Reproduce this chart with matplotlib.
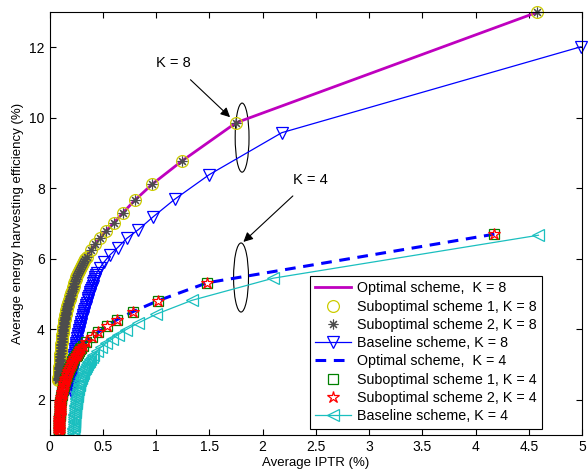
import matplotlib
matplotlib.use("Agg")
import matplotlib.pyplot as plt
from matplotlib.patches import Ellipse
from matplotlib.ticker import FormatStrFormatter, MultipleLocator

plt.rcParams["font.family"] = ["Liberation Sans", "DejaVu Sans"]

# K = 8, optimal scheme (suboptimal schemes 1 and 2 sit on the same points)
opt8_x = [4.58, 1.75, 1.24, 0.965, 0.80, 0.69, 0.606, 0.53, 0.474, 0.427, 0.39, 0.349,
          0.336, 0.324, 0.313, 0.302, 0.292, 0.283, 0.275, 0.267, 0.259, 0.252,
          0.245, 0.239, 0.233, 0.227, 0.221, 0.216, 0.211, 0.206, 0.202, 0.197,
          0.193, 0.189, 0.185, 0.181, 0.178, 0.175, 0.171, 0.168, 0.165, 0.162,
          0.159, 0.156, 0.154, 0.151, 0.149, 0.146, 0.144, 0.142, 0.140, 0.138,
          0.136, 0.134, 0.132, 0.130, 0.128, 0.126, 0.124, 0.123, 0.121, 0.119,
          0.118, 0.116, 0.115, 0.114, 0.112, 0.111, 0.109, 0.108, 0.107, 0.106,
          0.104, 0.103, 0.102, 0.101, 0.100, 0.099, 0.098, 0.097, 0.096, 0.095,
          0.094, 0.093, 0.092, 0.091, 0.090, 0.089, 0.088, 0.087, 0.0865, 0.086,
          0.085, 0.084, 0.0835, 0.083]
opt8_y = [13.0, 9.86, 8.77, 8.12, 7.66, 7.31, 7.03, 6.79, 6.60, 6.42, 6.25, 6.06,
          6.00, 5.94, 5.88, 5.83, 5.77, 5.71, 5.65, 5.59, 5.53, 5.48,
          5.42, 5.36, 5.30, 5.24, 5.19, 5.13, 5.08, 5.02, 4.98, 4.94,
          4.90, 4.87, 4.83, 4.80, 4.76, 4.72, 4.69, 4.65, 4.61, 4.58,
          4.54, 4.50, 4.47, 4.43, 4.40, 4.36, 4.32, 4.28, 4.25, 4.21,
          4.18, 4.14, 4.10, 4.06, 4.02, 3.98, 3.94, 3.89, 3.85, 3.80,
          3.76, 3.72, 3.68, 3.63, 3.59, 3.55, 3.51, 3.46, 3.42, 3.37,
          3.33, 3.29, 3.25, 3.20, 3.16, 3.12, 3.09, 3.05, 3.02, 2.99,
          2.96, 2.93, 2.90, 2.86, 2.83, 2.80, 2.77, 2.74, 2.71, 2.67,
          2.64, 2.61, 2.58, 2.55]

# K = 8, baseline scheme
base8_x = [4.99, 2.18, 1.50, 1.175, 0.972, 0.835, 0.725, 0.64, 0.568, 0.515, 0.474, 0.443,
           0.4365, 0.430, 0.4235, 0.417, 0.4105, 0.404, 0.3975, 0.391, 0.3845, 0.378,
           0.3715, 0.365, 0.359, 0.353, 0.3465, 0.340, 0.334, 0.328, 0.322, 0.316,
           0.3105, 0.305, 0.2995, 0.294, 0.289, 0.284, 0.279, 0.274, 0.2695, 0.265,
           0.261, 0.257, 0.253, 0.249, 0.2455, 0.242, 0.239, 0.236, 0.233, 0.230,
           0.2275, 0.225, 0.223, 0.221, 0.219, 0.217, 0.2155, 0.214, 0.2125, 0.211,
           0.210, 0.209, 0.208, 0.207, 0.206, 0.205]
base8_y = [12.02, 9.58, 8.39, 7.69, 7.19, 6.83, 6.58, 6.32, 6.11, 5.92, 5.75, 5.60,
           5.54, 5.48, 5.42, 5.36, 5.30, 5.24, 5.18, 5.12, 5.06, 5.00,
           4.94, 4.88, 4.82, 4.76, 4.70, 4.64, 4.58, 4.52, 4.46, 4.40,
           4.34, 4.28, 4.22, 4.16, 4.10, 4.04, 3.98, 3.92, 3.86, 3.80,
           3.74, 3.68, 3.62, 3.56, 3.50, 3.44, 3.38, 3.32, 3.26, 3.20,
           3.14, 3.08, 3.02, 2.96, 2.90, 2.84, 2.78, 2.72, 2.66, 2.60,
           2.54, 2.48, 2.42, 2.36, 2.30, 2.24]

# K = 4, optimal scheme (suboptimal schemes 1 and 2 sit on the same points)
opt4_x = [4.177, 1.48, 1.018, 0.783, 0.631, 0.537, 0.458, 0.396, 0.346, 0.31,
          0.2985, 0.287, 0.2755, 0.264, 0.254, 0.244, 0.234, 0.224, 0.2155, 0.207,
          0.199, 0.191, 0.1835, 0.176, 0.1705, 0.165, 0.160, 0.155, 0.150, 0.145,
          0.1405, 0.136, 0.132, 0.128, 0.1245, 0.121, 0.1175, 0.114, 0.1105, 0.107,
          0.104, 0.101, 0.100, 0.099, 0.098, 0.097, 0.096, 0.095, 0.0945, 0.094,
          0.093, 0.092, 0.0915, 0.091, 0.0905, 0.090, 0.0895, 0.089, 0.0885, 0.088]
opt4_y = [6.70, 5.32, 4.81, 4.50, 4.27, 4.08, 3.92, 3.78, 3.65, 3.53,
          3.48, 3.43, 3.38, 3.33, 3.28, 3.23, 3.18, 3.13, 3.08, 3.03,
          2.98, 2.93, 2.88, 2.83, 2.78, 2.73, 2.68, 2.63, 2.58, 2.53,
          2.48, 2.43, 2.38, 2.33, 2.28, 2.23, 2.18, 2.13, 2.08, 2.03,
          1.98, 1.93, 1.88, 1.83, 1.78, 1.73, 1.68, 1.63, 1.58, 1.53,
          1.48, 1.43, 1.38, 1.33, 1.28, 1.23, 1.18, 1.13, 1.08, 1.03]

# K = 4, baseline scheme
base4_x = [4.59, 2.1, 1.335, 1.003, 0.834, 0.718, 0.645, 0.584, 0.53, 0.484, 0.443, 0.411,
           0.396, 0.382, 0.37, 0.358, 0.349, 0.34, 0.3325, 0.325, 0.3175, 0.31,
           0.3035, 0.297, 0.2915, 0.286, 0.2815, 0.277, 0.273, 0.269, 0.2655, 0.262,
           0.259, 0.256, 0.2535, 0.251, 0.249, 0.247, 0.245, 0.243, 0.241, 0.239,
           0.2375, 0.236, 0.2345, 0.233, 0.2315, 0.23, 0.229, 0.228, 0.227, 0.226,
           0.225, 0.224, 0.2235, 0.223, 0.2225, 0.222]
base4_y = [6.67, 5.45, 4.82, 4.43, 4.18, 3.99, 3.85, 3.72, 3.60, 3.49, 3.37, 3.26,
           3.21, 3.16, 3.11, 3.06, 3.01, 2.96, 2.91, 2.86, 2.81, 2.76,
           2.71, 2.66, 2.61, 2.56, 2.51, 2.46, 2.41, 2.36, 2.31, 2.26,
           2.21, 2.16, 2.11, 2.06, 2.01, 1.96, 1.91, 1.86, 1.81, 1.76,
           1.71, 1.66, 1.61, 1.56, 1.51, 1.46, 1.41, 1.36, 1.31, 1.26,
           1.21, 1.16, 1.11, 1.06, 1.01, 0.96]

labels = ["Optimal scheme,  K = 8", "Suboptimal scheme 1, K = 8",
          "Suboptimal scheme 2, K = 8", "Baseline scheme, K = 8",
          "Optimal scheme,  K = 4", "Suboptimal scheme 1, K = 4",
          "Suboptimal scheme 2, K = 4", "Baseline scheme, K = 4"]

fig = plt.figure(figsize=(5.88, 4.69), dpi=100)
ax = fig.add_axes([0.0842, 0.0725, 0.9058, 0.9015])

ax.plot(opt8_x, opt8_y, "-", color=(0.75, 0, 0.75), lw=2, label=labels[0])
ax.plot(opt8_x, opt8_y, "o", ls="none", mfc="none", mec=(0.8, 0.8, 0), ms=8.5,
        mew=0.9, label=labels[1], clip_on=False)
ax.plot(opt8_x, opt8_y, marker=(8, 2, 0), ls="none", color=(0.3, 0.3, 0.3), ms=7,
        mew=0.8, label=labels[2], clip_on=False)
ax.plot(base8_x, base8_y, "-v", color="b", lw=0.9, mfc="none", ms=8.5, mew=0.9,
        label=labels[3], clip_on=False)
ax.plot(opt4_x, opt4_y, ls=(0, (3.5, 2.5)), color="b", lw=2.2, label=labels[4])
ax.plot(opt4_x, opt4_y, "s", ls="none", mfc="none", mec=(0, 0.5, 0), ms=7.5,
        mew=0.9, label=labels[5])
ax.plot(opt4_x, opt4_y, "*", ls="none", mfc="none", mec="r", ms=9, mew=0.9,
        label=labels[6])
ax.plot(base4_x, base4_y, "-<", color=(0.1, 0.75, 0.75), lw=0.9, mfc="none",
        ms=9, mew=0.9, label=labels[7])

# annotations
ax.add_patch(Ellipse((1.808, 9.44), 0.13, 1.96, fill=False, ec="k", lw=0.8))
ax.add_patch(Ellipse((1.798, 5.47), 0.14, 1.96, fill=False, ec="k", lw=0.8))
ax.annotate("K = 8", xy=(1.695, 10.02), xytext=(1.16, 11.55), fontsize=10.5,
            ha="center", va="center",
            arrowprops=dict(arrowstyle="-|>", color="k", lw=0.8,
                            mutation_scale=14, shrinkA=7, shrinkB=0))
ax.annotate("K = 4", xy=(1.82, 6.48), xytext=(2.45, 8.25), fontsize=10.5,
            ha="center", va="center",
            arrowprops=dict(arrowstyle="-|>", color="k", lw=0.8,
                            mutation_scale=14, shrinkA=7, shrinkB=0))

ax.set_xlim(0, 5)
ax.set_ylim(1, 13)
ax.xaxis.set_major_locator(MultipleLocator(0.5))
ax.yaxis.set_major_locator(MultipleLocator(2))
ax.xaxis.set_major_formatter(FormatStrFormatter("%g"))
ax.tick_params(direction="in", top=True, right=True, labelsize=10, length=4)
ax.set_xlabel("Average IPTR (%)", fontsize=9.5, labelpad=2)
ax.set_ylabel("Average energy harvesting efficiency (%)", fontsize=9.5, labelpad=4)

leg = ax.legend(loc="lower right", bbox_to_anchor=(0.925, 0.014), borderaxespad=0,
                fontsize=10.3, fancybox=False, edgecolor="k", framealpha=1,
                handlelength=2.5, labelspacing=0.3, borderpad=0.4,
                handletextpad=0.4)
leg.get_frame().set_linewidth(0.8)

fig.savefig("out.png", dpi=100)
